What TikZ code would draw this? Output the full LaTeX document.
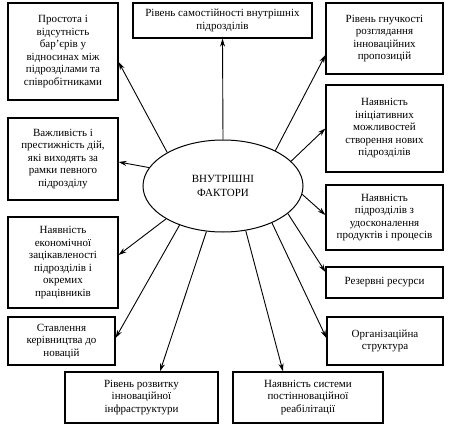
\documentclass[tikz,border=0pt]{standalone}
\usepackage{fontspec}
\setmainfont{Liberation Serif}
\usetikzlibrary{shapes, arrows.meta, positioning, calc}

\begin{document}
\begin{tikzpicture}[x=1pt,y=-1pt,
  box/.style={draw, line width=1.2pt, align=center, inner sep=0pt,
    font=\fontsize{11}{12.5}\selectfont},
  arr/.style={-{Stealth[length=8pt,width=5pt]}, line width=0.9pt}]
  \useasboundingbox (0,0) rectangle (450,425);

  % Central ellipse
  \node[ellipse, draw, line width=1pt, minimum width=160, minimum height=92,
    inner sep=0pt, align=center, font=\fontsize{11}{14}\selectfont]
    (ell) at (223,186) {ВНУТРІШНІ\\ФАКТОРИ};

  % Left column
  \node[box, minimum width=110, minimum height=97] (b1) at (63,51.5)
    {Простота і\\відсутність\\бар’єрів у\\відносинах між\\підрозділами та\\співробітниками};
  \node[box, minimum width=110, minimum height=82] (b4) at (63,159)
    {Важливість і\\престижність дій,\\які виходять за\\рамки певного\\підрозділу};
  \node[box, minimum width=110, minimum height=91] (b7) at (63,262.5)
    {Наявність\\економічної\\зацікавленості\\підрозділів і\\окремих\\працівників};
  \node[box, minimum width=107, minimum height=48] (b8) at (61.5,341)
    {Ставлення\\керівництва до\\новацій};

  % Top
  \node[box, minimum width=179, minimum height=35] (b2) at (222.5,20.5)
    {Рівень самостійності внутрішніх\\підрозділів};

  % Right column
  \node[box, minimum width=117, minimum height=71] (b3) at (384.5,38.5)
    {Рівень гнучкості\\розглядання\\інноваційних\\пропозицій};
  \node[box, minimum width=117, minimum height=87] (b5) at (384.5,128.5)
    {Наявність\\ініціативних\\можливостей\\створення нових\\підрозділів};
  \node[box, minimum width=117, minimum height=65] (b6) at (384.5,217.5)
    {Наявність\\підрозділів з\\удосконалення\\продуктів і процесів};
  \node[box, minimum width=117, minimum height=31] (b9) at (384.5,282.5)
    {Резервні ресурси};
  \node[box, minimum width=116, minimum height=48] (b10) at (385,341)
    {Організаційна\\структура};

  % Bottom
  \node[box, minimum width=153, minimum height=51] (b11) at (141.5,397.5)
    {Рівень розвитку\\інноваційної\\інфраструктури};
  \node[box, minimum width=150, minimum height=51] (b12) at (308,397.5)
    {Наявність системи\\постінноваційної\\реабілітації};

  % Arrows
  \draw[arr] (ell.149) -- ([yshift=-10.5pt]b1.east);
  \draw[arr] (ell.90) -- (b2.south);
  \draw[arr] (ell.34) -- ([yshift=-16.5pt]b3.west);
  \draw[arr] (ell.166) -- ([yshift=-3pt]b4.east);
  \draw[arr] (ell.20) -- (b5.west);
  \draw[arr] (ell.-6) -- ([yshift=2.5pt]b6.west);
  \draw[arr] (ell.-150) -- ([yshift=7.5pt]b7.east);
  \draw[arr] (ell.-138) -- ([yshift=3pt]b8.east);
  \draw[arr] (ell.-23) -- ([yshift=10.5pt]b9.west);
  \draw[arr] (ell.-37) -- ([yshift=3pt]b10.west);
  \draw[arr] (ell.-110) -- ([xshift=18.5pt]b11.north);
  \draw[arr] (ell.-63) -- ([xshift=-25pt]b12.north);
\end{tikzpicture}
\end{document}
